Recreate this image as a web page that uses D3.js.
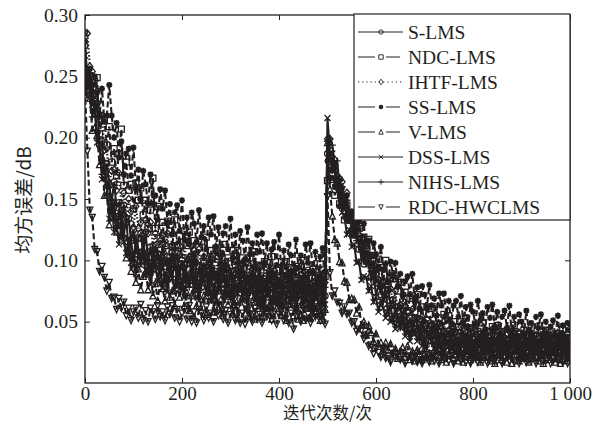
<!DOCTYPE html>
<html>
<head>
<meta charset="utf-8">
<script src="https://cdn.jsdelivr.net/npm/d3@7"></script>
<style>
  body { margin: 0; background: #fff; }
  svg text { font-family: "Liberation Serif", "Times New Roman", serif; fill: #231f20; }
  svg text.cjk { font-family: "Noto Sans CJK SC", sans-serif; }
</style>
</head>
<body>
<svg id="chart" width="593" height="423"></svg>
<script>
// iteration index (x): one sample every 5 iterations, 0..1000
const iterations = d3.range(0, 1001, 5);
const xTicks = [0, 200, 400, 600, 800, 1000];
const xTickLabels = ["0", "200", "400", "600", "800", "1 000"];
const yTicks = [0.05, 0.10, 0.15, 0.20, 0.25, 0.30];
const seriesNames = ["S-LMS", "NDC-LMS", "IHTF-LMS", "SS-LMS", "V-LMS", "DSS-LMS", "NIHS-LMS", "RDC-HWCLMS"];

// MSE, in units of 1e-3
const sLMS = [
  275,246,251,245,219,228,194,197,169,179, 161,147,164,143,147,128,145,131,134,116,
  125,105,118,122,105,123,99,111,93,112, 105,94,113,95,103,87,107,96,106,87,
  100,81,97,101,86,105,82,95,78,98, 91,80,101,83,91,75,96,86,96,78,
  91,72,88,93,78,97,74,88,71,91, 84,74,95,77,85,70,91,80,91,73,
  86,68,84,88,73,93,70,84,67,88, 81,72,92,74,82,67,88,78,89,71,
  187,186,171,178,165,166,149,151,134,138, 135,121,128,109,112,97,106,98,87,96,
  82,84,72,82,72,76,63,68,55,62, 63,52,62,47,53,41,53,48,39,51,
  40,44,35,47,39,46,34,42,30,40, 42,33,44,30,38,27,40,36,29,41,
  31,36,27,40,33,40,29,37,26,35, 38,29,41,27,35,25,38,34,27,40,
  30,35,26,39,32,39,28,36,25,35, 38,29,41,27,35,25,38,34,27,40,30
];
const ndcLMS = [
  237,255,238,245,220,249,203,215,214,194, 209,180,191,169,187,207,161,180,157,162,
  142,163,149,159,137,149,126,141,167,126, 144,118,131,112,132,124,111,133,112,120,
  102,124,112,123,103,116,95,111,115,99, 119,93,108,89,110,103,91,113,93,102,
  85,108,96,108,88,102,81,98,102,87, 107,82,96,78,99,92,81,103,84,92,
  76,99,87,99,80,94,73,90,95,79, 100,75,90,71,93,86,75,97,78,87,
  165,176,166,153,164,146,148,133,145,133, 138,121,127,126,118,119,112,117,96,104,
  88,101,94,83,100,81,85,88,85,75, 82,66,74,59,69,71,58,72,52,62,
  47,62,56,47,62,48,53,41,56,47, 55,40,50,35,46,50,38,53,34,45,
  32,48,42,34,49,36,42,31,46,38, 47,33,42,28,40,44,33,47,29,40,
  27,43,37,29,45,32,38,26,42,34, 43,29,39,25,36,40,29,44,26,37,24
];
const ihtfLMS = [
  286,285,258,254,230,238,218,218,190,191, 163,173,174,157,171,145,155,135,150,140,
  127,144,126,131,116,133,122,131,112,122, 103,116,120,105,122,99,112,95,112,105,
  95,113,97,103,90,108,98,109,91,103, 85,98,103,89,107,84,97,81,99,93,
  83,102,85,92,79,97,88,99,81,93, 75,89,94,80,98,76,89,73,92,85,
  76,95,79,85,72,91,82,93,76,88, 70,84,89,76,94,72,85,69,88,82,
  199,199,181,182,164,167,164,149,155,135, 137,122,130,121,109,117,103,104,91,100,
  89,93,79,83,69,76,77,65,75,58, 64,52,63,58,49,60,49,53,42,54,
  46,52,40,47,36,45,48,38,50,36, 43,33,45,41,34,46,36,41,31,44,
  37,44,33,40,29,39,42,32,44,30, 38,28,41,37,29,42,32,37,28,41,
  34,41,30,38,27,37,39,30,42,28, 36,26,39,35,28,41,31,36,27,40,33
];
const ssLMS = [
  279,243,256,229,250,237,218,240,213,218, 243,218,200,212,184,197,170,187,191,169,
  192,158,174,149,173,162,146,170,146,153, 133,158,142,157,131,146,121,139,145,124,
  149,117,135,113,139,130,115,141,119,128, 109,135,121,136,111,127,103,122,128,109,
  134,102,121,98,124,116,101,127,105,114, 95,121,107,122,98,114,89,109,115,96,
  121,90,108,86,113,104,90,117,94,104, 86,113,98,114,90,107,83,103,110,91,
  181,167,181,160,162,144,159,146,153,132, 140,120,130,132,115,130,105,116,97,114,
  105,94,111,92,97,82,99,88,98,79, 89,71,83,87,72,89,66,78,61,79,
  72,62,80,63,69,55,73,63,73,56, 67,49,63,67,54,71,49,62,46,64,
  58,48,67,51,57,44,62,53,64,46, 58,40,54,59,45,63,40,54,38,56,
  50,40,59,43,49,36,54,45,56,38, 50,33,46,51,38,55,33,47,30,49,43
];
const vLMS = [
  259,232,232,206,208,202,178,184,153,154, 129,144,135,123,138,121,120,102,107,91,
  101,82,93,76,87,91,76,92,71,81, 67,84,77,67,85,70,75,63,80,70,
  80,63,74,59,71,76,63,79,59,71, 56,74,68,58,76,62,68,55,73,64,
  74,57,68,53,66,70,57,74,54,66, 52,70,63,54,72,58,64,52,70,61,
  71,55,66,51,64,69,55,72,52,64, 51,68,62,53,71,57,63,51,69,60,
  196,158,136,117,114,99,98,83,82,68, 69,68,57,62,47,50,39,47,41,34,
  40,32,33,26,33,27,32,23,28,20, 26,29,21,30,19,26,18,27,24,19,
  28,21,24,18,27,22,28,19,25,17, 24,27,20,29,18,25,17,27,24,19,
  28,21,23,17,26,21,27,18,24,16, 23,26,19,28,17,24,16,26,23,18,
  27,20,23,17,26,21,27,18,24,16, 23,26,19,28,17,24,16,26,23,18,27
];
const dssLMS = [
  267,242,248,227,225,196,195,166,167,160, 134,148,123,129,113,129,115,106,118,98,
  105,89,107,96,106,88,98,80,92,96, 83,100,77,90,74,92,85,76,94,77,
  84,70,89,80,90,73,85,67,81,85, 72,90,67,81,65,83,77,68,86,70,
  77,64,82,73,84,67,79,61,75,80, 67,85,62,76,60,79,73,63,82,66,
  73,60,79,70,80,63,75,58,72,77, 64,82,60,73,57,76,70,61,80,64,
  216,187,187,173,156,156,139,136,121,125, 111,113,98,99,84,87,86,75,79,66,
  70,58,67,61,53,61,50,52,44,53, 45,51,38,44,34,41,43,34,44,30,
  37,28,38,34,28,39,29,33,25,36, 30,37,26,33,23,31,34,25,36,23,
  31,22,33,30,24,35,26,30,23,34, 28,35,25,32,22,30,33,25,36,23,
  30,21,32,29,23,34,25,29,22,33, 27,34,24,31,21,29,32,24,35,22,30
];
const nihsLMS = [
  245,255,237,217,227,199,196,170,181,160, 160,138,147,126,138,139,120,136,106,116,
  99,119,109,97,117,98,105,88,108,96, 107,88,100,81,96,100,84,103,80,93,
  76,96,89,78,99,81,89,74,94,84, 94,76,88,70,86,90,75,95,71,85,
  68,88,81,71,92,74,82,67,88,78, 88,70,83,64,80,85,70,89,66,80,
  63,84,77,66,87,70,78,63,84,74, 84,66,79,61,77,82,67,87,64,78,
  197,199,194,177,181,159,160,143,149,138, 124,131,116,115,101,108,97,99,84,87,
  72,79,78,66,74,57,63,50,61,54, 45,56,45,48,38,49,41,47,35,42,
  30,39,42,32,43,29,37,26,39,35, 28,40,30,35,26,39,32,38,27,35,
  24,34,37,28,40,26,34,24,37,33, 26,39,29,34,25,38,31,38,27,35,
  24,33,36,27,39,25,33,23,36,32, 25,38,28,33,24,37,30,37,26,34,23
];
const rdcHWCLMS = [
  239,189,141,135,109,107,91,95,86,75, 82,69,70,60,69,61,66,55,61,51,
  58,61,53,64,51,59,50,61,58,52, 63,54,58,51,62,56,63,53,60,50,
  57,60,52,63,50,58,49,60,57,51, 62,53,57,50,61,55,62,52,59,49,
  56,59,51,62,49,57,48,59,56,50, 61,52,56,49,60,54,61,51,58,48,
  56,59,51,62,49,57,44,59,56,50, 61,52,56,49,60,54,61,51,58,48,
  152,90,71,75,66,65,57,62,56,57, 49,50,42,44,43,36,39,30,31,24,
  28,25,21,27,20,22,17,24,21,24, 19,22,16,21,22,18,24,17,21,16,
  22,20,17,24,18,21,16,23,20,23, 18,22,16,21,22,18,24,17,21,16,
  22,20,17,24,18,21,16,23,20,23, 18,22,16,21,22,18,24,17,21,16,
  22,20,17,24,18,21,16,23,20,23, 18,22,16,21,22,18,24,17,21,16,22
];

const seriesValues = [sLMS, ndcLMS, ihtfLMS, ssLMS, vLMS, dssLMS, nihsLMS, rdcHWCLMS];
const unit = 1e-3;

// line / marker style per series (MATLAB look)
const styles = [
  { dash: null, legendDash: null, marker: "circle" },
  { dash: "6,3", legendDash: "17,11,14", marker: "square" },
  { dash: "1.5,2", legendDash: "1.2,3", marker: "diamond" },
  { dash: "6,3", legendDash: "17,11,14", marker: "star" },
  { dash: "6,3", legendDash: "17,11,14", marker: "triUp" },
  { dash: null, legendDash: null, marker: "cross" },
  { dash: null, legendDash: null, marker: "plus" },
  { dash: "6,3", legendDash: "17,11,14", marker: "triDown" }
];

const ink = "#231f20";
const W = 593, H = 423;
const margin = { top: 15, right: 23, bottom: 40, left: 85 };

const svg = d3.select("#chart");

const x = d3.scaleLinear().domain([0, 1000]).range([margin.left, W - margin.right]);
const y = d3.scaleLinear().domain([0, 0.3]).range([H - margin.bottom, margin.top]);

function markerPath(type, r) {
  switch (type) {
    case "circle": return d3.symbol(d3.symbolCircle, Math.PI * r * r)();
    case "square": return `M${-r},${-r}H${r}V${r}H${-r}Z`;
    case "diamond": return `M0,${-r - 0.6}L${r},0L0,${r + 0.6}L${-r},0Z`;
    case "triUp": return `M0,${-r - 0.3}L${r},${r}L${-r},${r}Z`;
    case "triDown": return `M0,${r + 0.3}L${r},${-r}L${-r},${-r}Z`;
    case "cross": return `M${-r},${-r}L${r},${r}M${-r},${r}L${r},${-r}`;
    case "plus": return `M${-r - 0.5},0H${r + 0.5}M0,${-r - 0.5}V${r + 0.5}`;
    case "star": return `M${-r},0H${r}M0,${-r}V${r}M${-r * 0.75},${-r * 0.75}L${r * 0.75},${r * 0.75}M${-r * 0.75},${r * 0.75}L${r * 0.75},${-r * 0.75}`;
  }
}

function drawMarker(sel, type, r, sw) {
  sel.append("path")
    .attr("d", markerPath(type, r))
    .attr("fill", type === "star" ? ink : "none")
    .attr("stroke", ink)
    .attr("stroke-width", type === "star" ? sw + 0.4 : sw);
  if (type === "star") {
    sel.append("circle").attr("r", r * 0.7).attr("fill", ink);
  }
}

svg.append("defs").append("clipPath").attr("id", "plotClip")
  .append("rect")
  .attr("x", margin.left).attr("y", margin.top)
  .attr("width", W - margin.left - margin.right)
  .attr("height", H - margin.top - margin.bottom);

const plot = svg.append("g").attr("clip-path", "url(#plotClip)");

const line = d3.line()
  .x((d, i) => x(iterations[i]))
  .y(d => y(d * unit));

seriesValues.forEach((vals, si) => {
  const st = styles[si];
  const g = plot.append("g");
  g.append("path")
    .datum(vals)
    .attr("d", line)
    .attr("fill", "none")
    .attr("stroke", ink)
    .attr("stroke-width", 2.1)
    .attr("stroke-dasharray", st.dash);
  g.selectAll("g.mk")
    .data(vals)
    .enter()
    .append("g")
    .attr("class", "mk")
    .attr("transform", (d, i) => `translate(${x(iterations[i])},${y(d * unit)})`)
    .each(function () { drawMarker(d3.select(this), st.marker, 3, 1.3); });
});

// axes (ticks inward, box on)
const xAxis = svg.append("g")
  .attr("transform", `translate(0,${H - margin.bottom})`)
  .call(d3.axisBottom(x).tickValues(xTicks).tickFormat((d, i) => xTickLabels[i])
    .tickSizeInner(-5).tickSizeOuter(0).tickPadding(4));
const xAxisTop = svg.append("g")
  .attr("transform", `translate(0,${margin.top})`)
  .call(d3.axisTop(x).tickValues(xTicks).tickFormat("")
    .tickSizeInner(-5).tickSizeOuter(0));
const yAxis = svg.append("g")
  .attr("transform", `translate(${margin.left},0)`)
  .call(d3.axisLeft(y).tickValues(yTicks).tickFormat(d3.format(".2f"))
    .tickSizeInner(-5).tickSizeOuter(0).tickPadding(7));
const yAxisRight = svg.append("g")
  .attr("transform", `translate(${W - margin.right},0)`)
  .call(d3.axisRight(y).tickValues(yTicks).tickFormat("")
    .tickSizeInner(-5).tickSizeOuter(0));

[xAxis, xAxisTop, yAxis, yAxisRight].forEach(a => {
  a.select(".domain").remove();
  a.selectAll(".tick line").attr("stroke", ink).attr("stroke-width", 1);
  a.selectAll(".tick text")
    .attr("fill", ink)
    .style("font-family", '"Liberation Serif", serif')
    .style("font-size", "19.5px");
});
xAxis.selectAll(".tick text").style("font-size", "19px");

svg.append("rect")
  .attr("x", margin.left).attr("y", margin.top)
  .attr("width", W - margin.left - margin.right)
  .attr("height", H - margin.top - margin.bottom)
  .attr("fill", "none")
  .attr("stroke", ink)
  .attr("stroke-width", 1.3);

// axis titles
svg.append("text")
  .attr("class", "cjk")
  .attr("x", (margin.left + W - margin.right) / 2)
  .attr("y", 418.5)
  .attr("text-anchor", "middle")
  .style("font-size", "16.5px")
  .text("迭代次数/次");

svg.append("text")
  .attr("class", "cjk")
  .attr("transform", `translate(31,${(margin.top + H - margin.bottom) / 2 + 1}) rotate(-90)`)
  .attr("text-anchor", "middle")
  .style("font-size", "19px")
  .text("均方误差/dB");

// legend
const lg = { x: 354, y: 14, w: 216, h: 206, row: 25, first: 32 };
svg.append("rect")
  .attr("x", lg.x).attr("y", lg.y)
  .attr("width", lg.w).attr("height", lg.h)
  .attr("fill", "#fff")
  .attr("stroke", ink)
  .attr("stroke-width", 1.2);

seriesNames.forEach((name, i) => {
  const st = styles[i];
  const cy = lg.first + i * lg.row;
  const item = svg.append("g");
  item.append("line")
    .attr("x1", 358).attr("x2", 403)
    .attr("y1", cy).attr("y2", cy)
    .attr("stroke", ink)
    .attr("stroke-width", 1)
    .attr("stroke-dasharray", st.legendDash);
  const m = item.append("g").attr("transform", `translate(381,${cy})`);
  drawMarker(m, st.marker, 2.2, 0.9);
  item.append("text")
    .attr("x", 408)
    .attr("y", cy)
    .attr("dy", "0.35em")
    .style("font-size", "19.5px")
    .text(name);
});
</script>
</body>
</html>
